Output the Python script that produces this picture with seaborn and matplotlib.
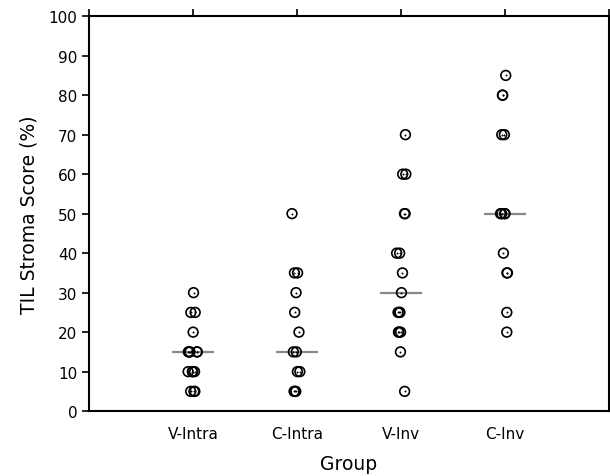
import numpy as np
import pandas as pd
import matplotlib
matplotlib.use("Agg")
import matplotlib.pyplot as plt
import seaborn as sns

groups = ["V-Intra", "C-Intra", "V-Inv", "C-Inv"]
v_intra = [30, 25, 25, 20, 15, 15, 15, 15, 15, 10, 10, 10, 10, 5, 5, 5]
c_intra = [50, 35, 35, 30, 25, 20, 15, 15, 10, 10, 5, 5, 5]
v_inv = [70, 60, 60, 50, 50, 40, 40, 35, 30, 25, 25, 25, 20, 20, 20, 15, 5]
c_inv = [85, 80, 80, 70, 70, 50, 50, 50, 50, 40, 35, 35, 25, 20]
yticks = list(range(0, 101, 10))

df = pd.DataFrame({
    "Group": sum([[g] * len(v) for g, v in zip(groups, [v_intra, c_intra, v_inv, c_inv])], []),
    "Score": v_intra + c_intra + v_inv + c_inv,
})

sns.set_style("white")
plt.rcParams["font.family"] = ["DejaVu Sans"]
plt.rcParams["text.color"] = "black"
plt.rcParams["axes.labelcolor"] = "black"

fig = plt.figure(figsize=(6.10, 4.77), dpi=100)
ax = fig.add_axes([0.146, 0.136, 0.852, 0.828])

sns.boxplot(data=df, x="Group", y="Score", order=groups, ax=ax, width=0.4,
            showbox=False, showcaps=False, showfliers=False, whis=0,
            whiskerprops={"linewidth": 0},
            medianprops={"color": "#888888", "linewidth": 1.6})

np.random.seed(3)
sns.stripplot(data=df, x="Group", y="Score", order=groups, ax=ax, jitter=0.05,
              marker="o", size=7, facecolors="none", edgecolor="black",
              linewidth=1.2, color="none", zorder=3)
np.random.seed(3)
sns.stripplot(data=df, x="Group", y="Score", order=groups, ax=ax, jitter=0.05,
              marker="o", size=1.4, color="black", linewidth=0, zorder=4)

ax.set_xlim(-1, 4)
ax.set_ylim(0, 100)
ax.set_xticks(range(-1, 5))
ax.set_xticklabels([""] + groups + [""])
ax.set_yticks(yticks)
ax.tick_params(axis="both", direction="out", length=5, width=1.2, colors="black",
               labelsize=11)
ax.tick_params(axis="x", top=True, pad=6)
ax.tick_params(axis="y", left=True)
for s in ax.spines.values():
    s.set_visible(True)
    s.set_color("black")
    s.set_linewidth(1.5)
ax.set_xlabel("Group", fontsize=13.5, labelpad=9)
ax.set_ylabel("TIL Stroma Score (%)", fontsize=13.5, labelpad=7)

fig.savefig("out.png", dpi=100)
